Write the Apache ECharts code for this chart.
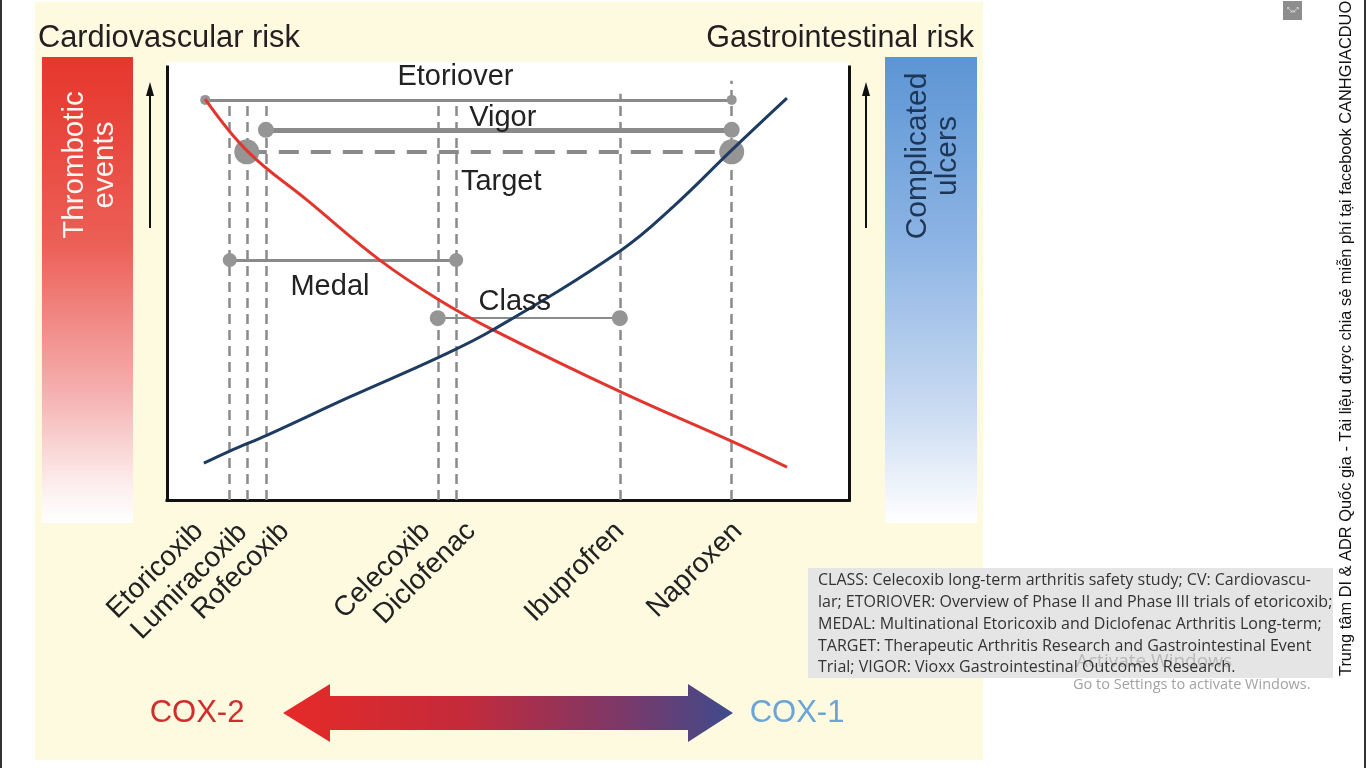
<!DOCTYPE html>
<html>
<head>
<meta charset="utf-8">
<script src="https://cdn.jsdelivr.net/npm/echarts@6/dist/echarts.min.js"></script>
<style>
html,body{margin:0;padding:0;background:#fff;}
#chart{width:1366px;height:768px;}
</style>
</head>
<body>
<div id="chart"></div>
<script>
// ---------- data ----------
const drugs = ['Etoricoxib', 'Lumiracoxib', 'Rofecoxib', 'Celecoxib', 'Diclofenac', 'Ibuprofren', 'Naproxen'];
const drugX = [9.2, 11.7, 14.5, 39.7, 42.4, 66.4, 82.8];
const drugLineTop = [92.4, 92.4, 92.4, 92.4, 92.4, 93.8, 96.8];

const trials = ['Etoriover', 'Vigor', 'Target', 'Medal', 'Class'];
const trialStart = [5.6, 14.5, 11.7, 9.2, 39.7];
const trialEnd = [82.8, 82.8, 82.8, 42.4, 66.4];
const trialY = [92.4, 85.5, 80.4, 55.4, 42.0];

const cvRiskX = [5.6, 11.9, 20.5, 31.2, 39.9, 47.8, 66.6, 83.0, 90.9];
const cvRiskY = [92.6, 80.4, 69.3, 55.4, 46.2, 39.3, 24.9, 13.4, 7.6];
const giRiskX = [5.4, 9.2, 14.7, 26.8, 39.9, 47.8, 66.6, 74.2, 82.8, 90.9];
const giRiskY = [8.5, 11.3, 15.0, 23.8, 33.0, 39.3, 57.7, 67.7, 80.8, 92.8];

const titles = ['Cardiovascular risk', 'Gastrointestinal risk'];
const sideLabels = ['Thrombotic\nevents', 'Complicated\nulcers'];
const enzymes = ['COX-2', 'COX-1'];
const noteLines = [
  'CLASS: Celecoxib long-term arthritis safety study; CV: Cardiovascu-',
  'lar; ETORIOVER: Overview of Phase II and Phase III trials of etoricoxib;',
  'MEDAL: Multinational Etoricoxib and Diclofenac Arthritis Long-term;',
  'TARGET: Therapeutic Arthritis Research and Gastrointestinal Event',
  'Trial; VIGOR: Vioxx Gastrointestinal Outcomes Research.'
];
const watermark = 'Trung tâm DI & ADR Quốc gia - Tài liệu được chia sẻ miễn phí tại facebook CANHGIACDUOC';

// ---------- styles / layout ----------
const G = {left: 167, top: 67, width: 682, height: 433};
const FONT = 'Liberation Sans, Arial, Helvetica, sans-serif';
// screen-space offsets of the label end from the tick foot
const drugLabelOffset = {
  Etoricoxib: [-31, 27], Lumiracoxib: [-4, 28], Rofecoxib: [19, 27],
  Celecoxib: [-12, 27], Diclofenac: [15, 27], Ibuprofren: [0, 27], Naproxen: [6, 27]
};
function toLocal(o) { // label offsets are applied in the rotated (45deg) frame
  const k = Math.SQRT1_2;
  return [k * (o[0] - o[1]), k * (o[0] + o[1])];
}
const trialStyle = {
  Etoriover: {line: {width: 3, type: 'solid'}, dot: 10, label: [-13, -23]},
  Vigor:     {line: {width: 5, type: 'solid'}, dot: 16, label: [4, -12]},
  Target:    {line: {width: 4, type: [20, 12]}, dot: 25, label: [12, 30]},
  Medal:     {line: {width: 3, type: 'solid'}, dot: 14, label: [-13, 27]},
  Class:     {line: {width: 2, type: 'solid'}, dot: 16, label: [-14, -16]}
};
const GRAY = '#8a8a8a';

const chart = echarts.init(document.getElementById('chart'), null, {renderer: 'canvas'});

function sideArrow(x) {
  return [
    {type: 'line', shape: {x1: x, y1: 228, x2: x, y2: 92}, style: {stroke: '#111', lineWidth: 2}, z: -1},
    {type: 'polygon', shape: {points: [[x, 82], [x - 4, 96], [x + 4, 96]]}, style: {fill: '#111'}, z: -1}
  ];
}

const graphics = [
  {type: 'rect', shape: {x: 0, y: 0, width: 2, height: 768}, style: {fill: '#333'}, z: -10},
  {type: 'rect', shape: {x: 1364, y: 0, width: 2, height: 768}, style: {fill: '#333'}, z: -10},
  {type: 'rect', shape: {x: 35, y: 2, width: 948, height: 758}, style: {fill: '#fdfae0'}, z: -10},
  {type: 'rect', shape: {x: G.left, y: 62, width: G.width, height: 438}, style: {fill: '#ffffff'}, z: -9},
  {type: 'rect', shape: {x: 42, y: 57, width: 91, height: 466}, z: -9,
    style: {fill: new echarts.graphic.LinearGradient(0, 0, 0, 1, [
      {offset: 0, color: '#e6362c'}, {offset: 0.4, color: '#ec5f56'},
      {offset: 0.72, color: '#f5b0b0'}, {offset: 0.92, color: '#fdeeee'}, {offset: 1, color: '#ffffff'}])}},
  {type: 'rect', shape: {x: 885, y: 57, width: 92, height: 466}, z: -9,
    style: {fill: new echarts.graphic.LinearGradient(0, 0, 0, 1, [
      {offset: 0, color: '#5c95d4'}, {offset: 0.4, color: '#8db4e4'},
      {offset: 0.75, color: '#c8daf1'}, {offset: 1, color: '#ffffff'}])}},
  {type: 'text', x: 38, y: 39, z: -1, style: {text: titles[0], font: '30.8px ' + FONT, fill: '#231f20', align: 'left', verticalAlign: 'middle'}},
  {type: 'text', x: 974, y: 39, z: -1, style: {text: titles[1], font: '30.5px ' + FONT, fill: '#231f20', align: 'right', verticalAlign: 'middle'}},
  {type: 'text', x: 90, y: 165, rotation: Math.PI / 2, z: -1,
    style: {text: sideLabels[0], font: '29.5px ' + FONT, fill: '#fff4f2', align: 'center', verticalAlign: 'middle', lineHeight: 30}},
  {type: 'text', x: 933, y: 156, rotation: Math.PI / 2, z: -1,
    style: {text: sideLabels[1], font: '30px ' + FONT, fill: '#1d3656', align: 'center', verticalAlign: 'middle', lineHeight: 30}},
  ...sideArrow(150), ...sideArrow(866),
  {type: 'polygon', z: -1,
    shape: {points: [[283, 713], [330, 684], [330, 696], [688, 696], [688, 684], [733, 713], [688, 742], [688, 730], [330, 730], [330, 742]]},
    style: {fill: new echarts.graphic.LinearGradient(0, 0, 1, 0, [
      {offset: 0, color: '#e62a28'}, {offset: 0.4, color: '#c42a3a'},
      {offset: 0.75, color: '#7c3868'}, {offset: 1, color: '#3e4b8c'}])}},
  {type: 'text', x: 197, y: 713, z: -1, style: {text: enzymes[0], font: '31px ' + FONT, fill: '#cf2e2c', align: 'center', verticalAlign: 'middle'}},
  {type: 'text', x: 797, y: 713, z: -1, style: {text: enzymes[1], font: '31px ' + FONT, fill: '#6ba4d9', align: 'center', verticalAlign: 'middle'}},
  {type: 'rect', shape: {x: 808, y: 568, width: 525, height: 110}, style: {fill: '#e5e5e5'}, z: 5},
  {type: 'text', x: 1076, y: 662, z: 5, style: {text: 'Activate Windows', font: '19px Open Sans, sans-serif', fill: 'rgba(150,150,150,0.55)', align: 'left', verticalAlign: 'middle'}},
  {type: 'text', x: 818, y: 570, z: 6, style: {text: noteLines.join('\n'), font: '16px Open Sans, sans-serif', fill: '#333', align: 'left', verticalAlign: 'top', lineHeight: 21.75}},
  {type: 'text', x: 1073, y: 685, z: 6, style: {text: 'Go to Settings to activate Windows.', font: '14.5px Open Sans, sans-serif', fill: '#a3a3a3', align: 'left', verticalAlign: 'middle'}},
  {type: 'text', x: 1346, y: 676, rotation: Math.PI / 2, z: 6,
    style: {text: watermark, font: '16.4px ' + FONT, fill: '#111', align: 'left', verticalAlign: 'middle'}},
  {type: 'rect', shape: {x: 1283, y: 1, width: 19, height: 19}, style: {fill: '#8d8d8d'}, z: 6},
  {type: 'text', x: 1292.5, y: 10.5, z: 7, style: {text: '⤡⤢', font: '7px DejaVu Sans', fill: '#fff', align: 'center', verticalAlign: 'middle'}}
];

const dotData = [];
trials.forEach((t, i) => {
  dotData.push({value: [trialStart[i], trialY[i]], symbolSize: trialStyle[t].dot});
  dotData.push({value: [trialEnd[i], trialY[i]], symbolSize: trialStyle[t].dot});
});

const option = {
  backgroundColor: '#ffffff',
  animation: false,
  grid: {left: G.left, top: G.top, width: G.width, height: G.height, containLabel: false},
  xAxis: {type: 'value', min: 0, max: 100, axisLine: {show: true, onZero: false, lineStyle: {color: '#111', width: 3, cap: 'square'}},
    axisTick: {show: false}, axisLabel: {show: false}, splitLine: {show: false}},
  yAxis: [
    {type: 'value', min: 0, max: 100, position: 'left', axisLine: {show: true, onZero: false, lineStyle: {color: '#111', width: 3, cap: 'square'}},
      axisTick: {show: false}, axisLabel: {show: false}, splitLine: {show: false}},
    {type: 'value', min: 0, max: 100, position: 'right', axisLine: {show: true, onZero: false, lineStyle: {color: '#111', width: 3, cap: 'square'}},
      axisTick: {show: false}, axisLabel: {show: false}, splitLine: {show: false}}
  ],
  graphic: graphics,
  series: [
    {
      name: 'drug lines', type: 'lines', coordinateSystem: 'cartesian2d', silent: true, z: 1,
      lineStyle: {color: GRAY, width: 2.5, type: [10, 6], opacity: 1},
      data: drugs.map((d, i) => ({coords: [[drugX[i], 0], [drugX[i], drugLineTop[i]]]}))
    },
    {
      name: 'trials', type: 'lines', coordinateSystem: 'cartesian2d', silent: true, z: 2,
      data: trials.map((t, i) => ({
        coords: [[trialStart[i], trialY[i]], [trialEnd[i], trialY[i]]],
        lineStyle: {color: GRAY, opacity: 1, width: trialStyle[t].line.width, type: trialStyle[t].line.type}
      }))
    },
    {
      name: 'trial ends', type: 'scatter', z: 3, silent: true,
      itemStyle: {color: '#959595', opacity: 1},
      data: dotData
    },
    {
      name: 'Cardiovascular risk', type: 'line', z: 4, smooth: 0.4, showSymbol: false,
      lineStyle: {color: '#e2352d', width: 3},
      data: cvRiskX.map((x, i) => [x, cvRiskY[i]])
    },
    {
      name: 'Gastrointestinal risk', type: 'line', z: 4, smooth: 0.4, showSymbol: false,
      lineStyle: {color: '#1e3b62', width: 3},
      data: giRiskX.map((x, i) => [x, giRiskY[i]])
    },
    {
      name: 'trial labels', type: 'scatter', z: 5, silent: true, symbolSize: 1,
      itemStyle: {color: 'rgba(0,0,0,0)', opacity: 1},
      data: trials.map((t, i) => ({
        name: t, value: [(trialStart[i] + trialEnd[i]) / 2, trialY[i]],
        label: {show: true, formatter: '{b}', position: 'inside', offset: trialStyle[t].label,
          fontFamily: FONT, fontSize: 29, color: '#222', opacity: 1, align: 'center', verticalAlign: 'middle'}
      }))
    },
    {
      name: 'drug labels', type: 'scatter', z: 5, silent: true, symbolSize: 1,
      itemStyle: {color: 'rgba(0,0,0,0)', opacity: 1},
      data: drugs.map((d, i) => ({
        name: d, value: [drugX[i], 0],
        label: {show: true, formatter: '{b}', position: 'inside', rotate: 45, offset: toLocal(drugLabelOffset[d]),
          fontFamily: FONT, fontSize: 28, color: '#222', opacity: 1, align: 'right', verticalAlign: 'middle'}
      }))
    }
  ]
};
chart.setOption(option);
</script>
</body>
</html>
